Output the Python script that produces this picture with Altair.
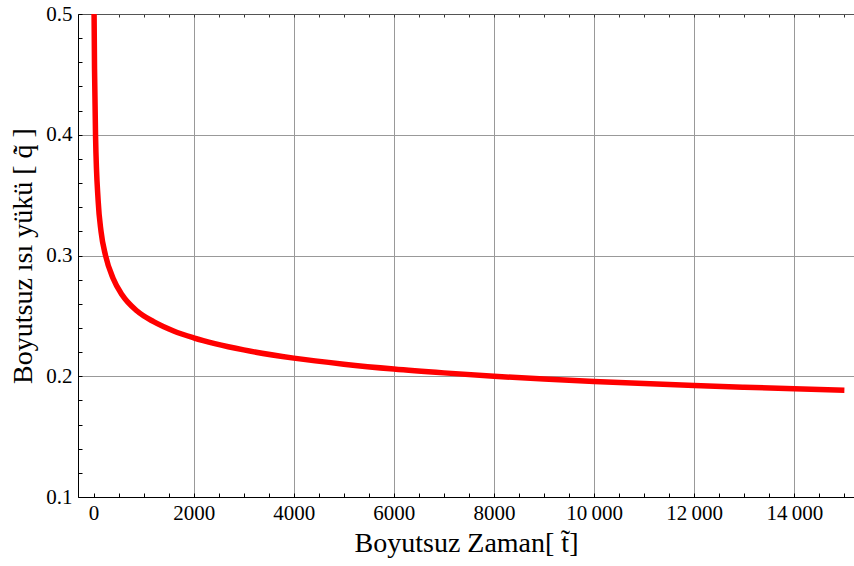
import altair as alt
import pandas as pd

# Curve (dimensionless time vs dimensionless heat load)
t_vals = [0, 20, 40, 93, 150, 240, 390, 570, 870, 1200, 1600, 2000, 3000, 4000,
          5000, 6000, 7000, 8000, 9000, 10000, 11000, 12000, 13000, 14000, 15000]
q_vals = [0.56, 0.455, 0.400, 0.345, 0.320, 0.300, 0.2812, 0.2675, 0.2540, 0.2452,
          0.2375, 0.2318, 0.2218, 0.2150, 0.2100, 0.2060, 0.2028, 0.2000, 0.1977,
          0.1957, 0.1939, 0.1923, 0.1909, 0.1896, 0.1884]

x_major = [0, 2000, 4000, 6000, 8000, 10000, 12000, 14000]
x_minor = list(range(0, 15001, 500))
y_major = [0.1, 0.2, 0.3, 0.4, 0.5]
y_minor = [round(0.1 + 0.02 * i, 2) for i in range(21)]

x_title = "Boyutsuz Zaman[ t\u0303]"
y_title = "Boyutsuz \u0131s\u0131 y\u00fck\u00fc [ q\u0307\u0303 ]"

df = pd.DataFrame({"t": t_vals, "q": q_vals})

W, H = 776, 483
FONT = "Liberation Serif"
xscale = alt.Scale(domain=[-310, 15192], nice=False, zero=False)
yscale = alt.Scale(domain=[0.1, 0.5], nice=False, zero=False)

base = alt.Chart(df)

x_label_expr = ("datum.value >= 10000 ? replace(format(datum.value, ','), ',', '\u2009') "
                ": format(datum.value, 'd')")

main = base.mark_line(color="#ff0000", strokeWidth=5.5, clip=True,
                      interpolate="monotone").encode(
    x=alt.X("t:Q", scale=xscale, axis=alt.Axis(
        orient="bottom", values=x_major, labelExpr=x_label_expr, title=x_title,
        ticks=False, domain=True, domainColor="#000000", domainWidth=1,
        grid=True, gridColor="#999999", gridWidth=1,
        gridOpacity={"condition": {"test": "datum.value === 0", "value": 0}, "value": 1},
        labelFont=FONT, labelFontSize=21, labelColor="#000000", labelPadding=5,
        labelFlush=False,
        titleFont=FONT, titleFontSize=28, titleFontWeight="normal",
        titleColor="#000000", titlePadding=6)),
    y=alt.Y("q:Q", scale=yscale, axis=alt.Axis(
        orient="left", values=y_major, format=".1f", title=y_title,
        ticks=False, domain=True, domainColor="#000000", domainWidth=1,
        grid=True, gridColor="#999999", gridWidth=1,
        labelFont=FONT, labelFontSize=21, labelColor="#000000", labelPadding=6,
        labelFlush=False,
        titleFont=FONT, titleFontSize=28, titleFontWeight="normal",
        titleColor="#000000", titlePadding=8)),
)

# inward ticks on the bottom and left frame
ticks_bl = base.mark_point(opacity=0).encode(
    x=alt.X("t:Q", scale=xscale, axis=alt.Axis(
        orient="top", offset=-H, values=x_minor, labels=False, domain=False,
        grid=False, ticks=True, tickSize=4, tickColor="#000000", title=None)),
    y=alt.Y("q:Q", scale=yscale, axis=alt.Axis(
        orient="right", offset=-W, values=y_minor, labels=False, domain=False,
        grid=False, ticks=True, tickSize=4, tickColor="#000000", title=None)),
)

# top frame with inward ticks
top_frame = base.mark_point(opacity=0).encode(
    x=alt.X("t:Q", scale=xscale, axis=alt.Axis(
        orient="bottom", offset=-H, values=x_minor, labels=False, domain=True,
        domainColor="#555555", grid=False, ticks=True, tickSize=3,
        tickColor="#333333", title=None)),
    y=alt.Y("q:Q", scale=yscale, axis=None),
)

chart = alt.layer(main, ticks_bl, top_frame).resolve_axis(
    x="independent", y="independent"
).properties(
    width=W, height=H,
    autosize=alt.AutoSizeParams(type="none"),
    padding={"left": 78, "top": 14, "right": 0, "bottom": 69},
).configure_view(strokeWidth=0).configure(background="white")

chart.save("out.html", embed_options={"renderer": "svg", "actions": False})
